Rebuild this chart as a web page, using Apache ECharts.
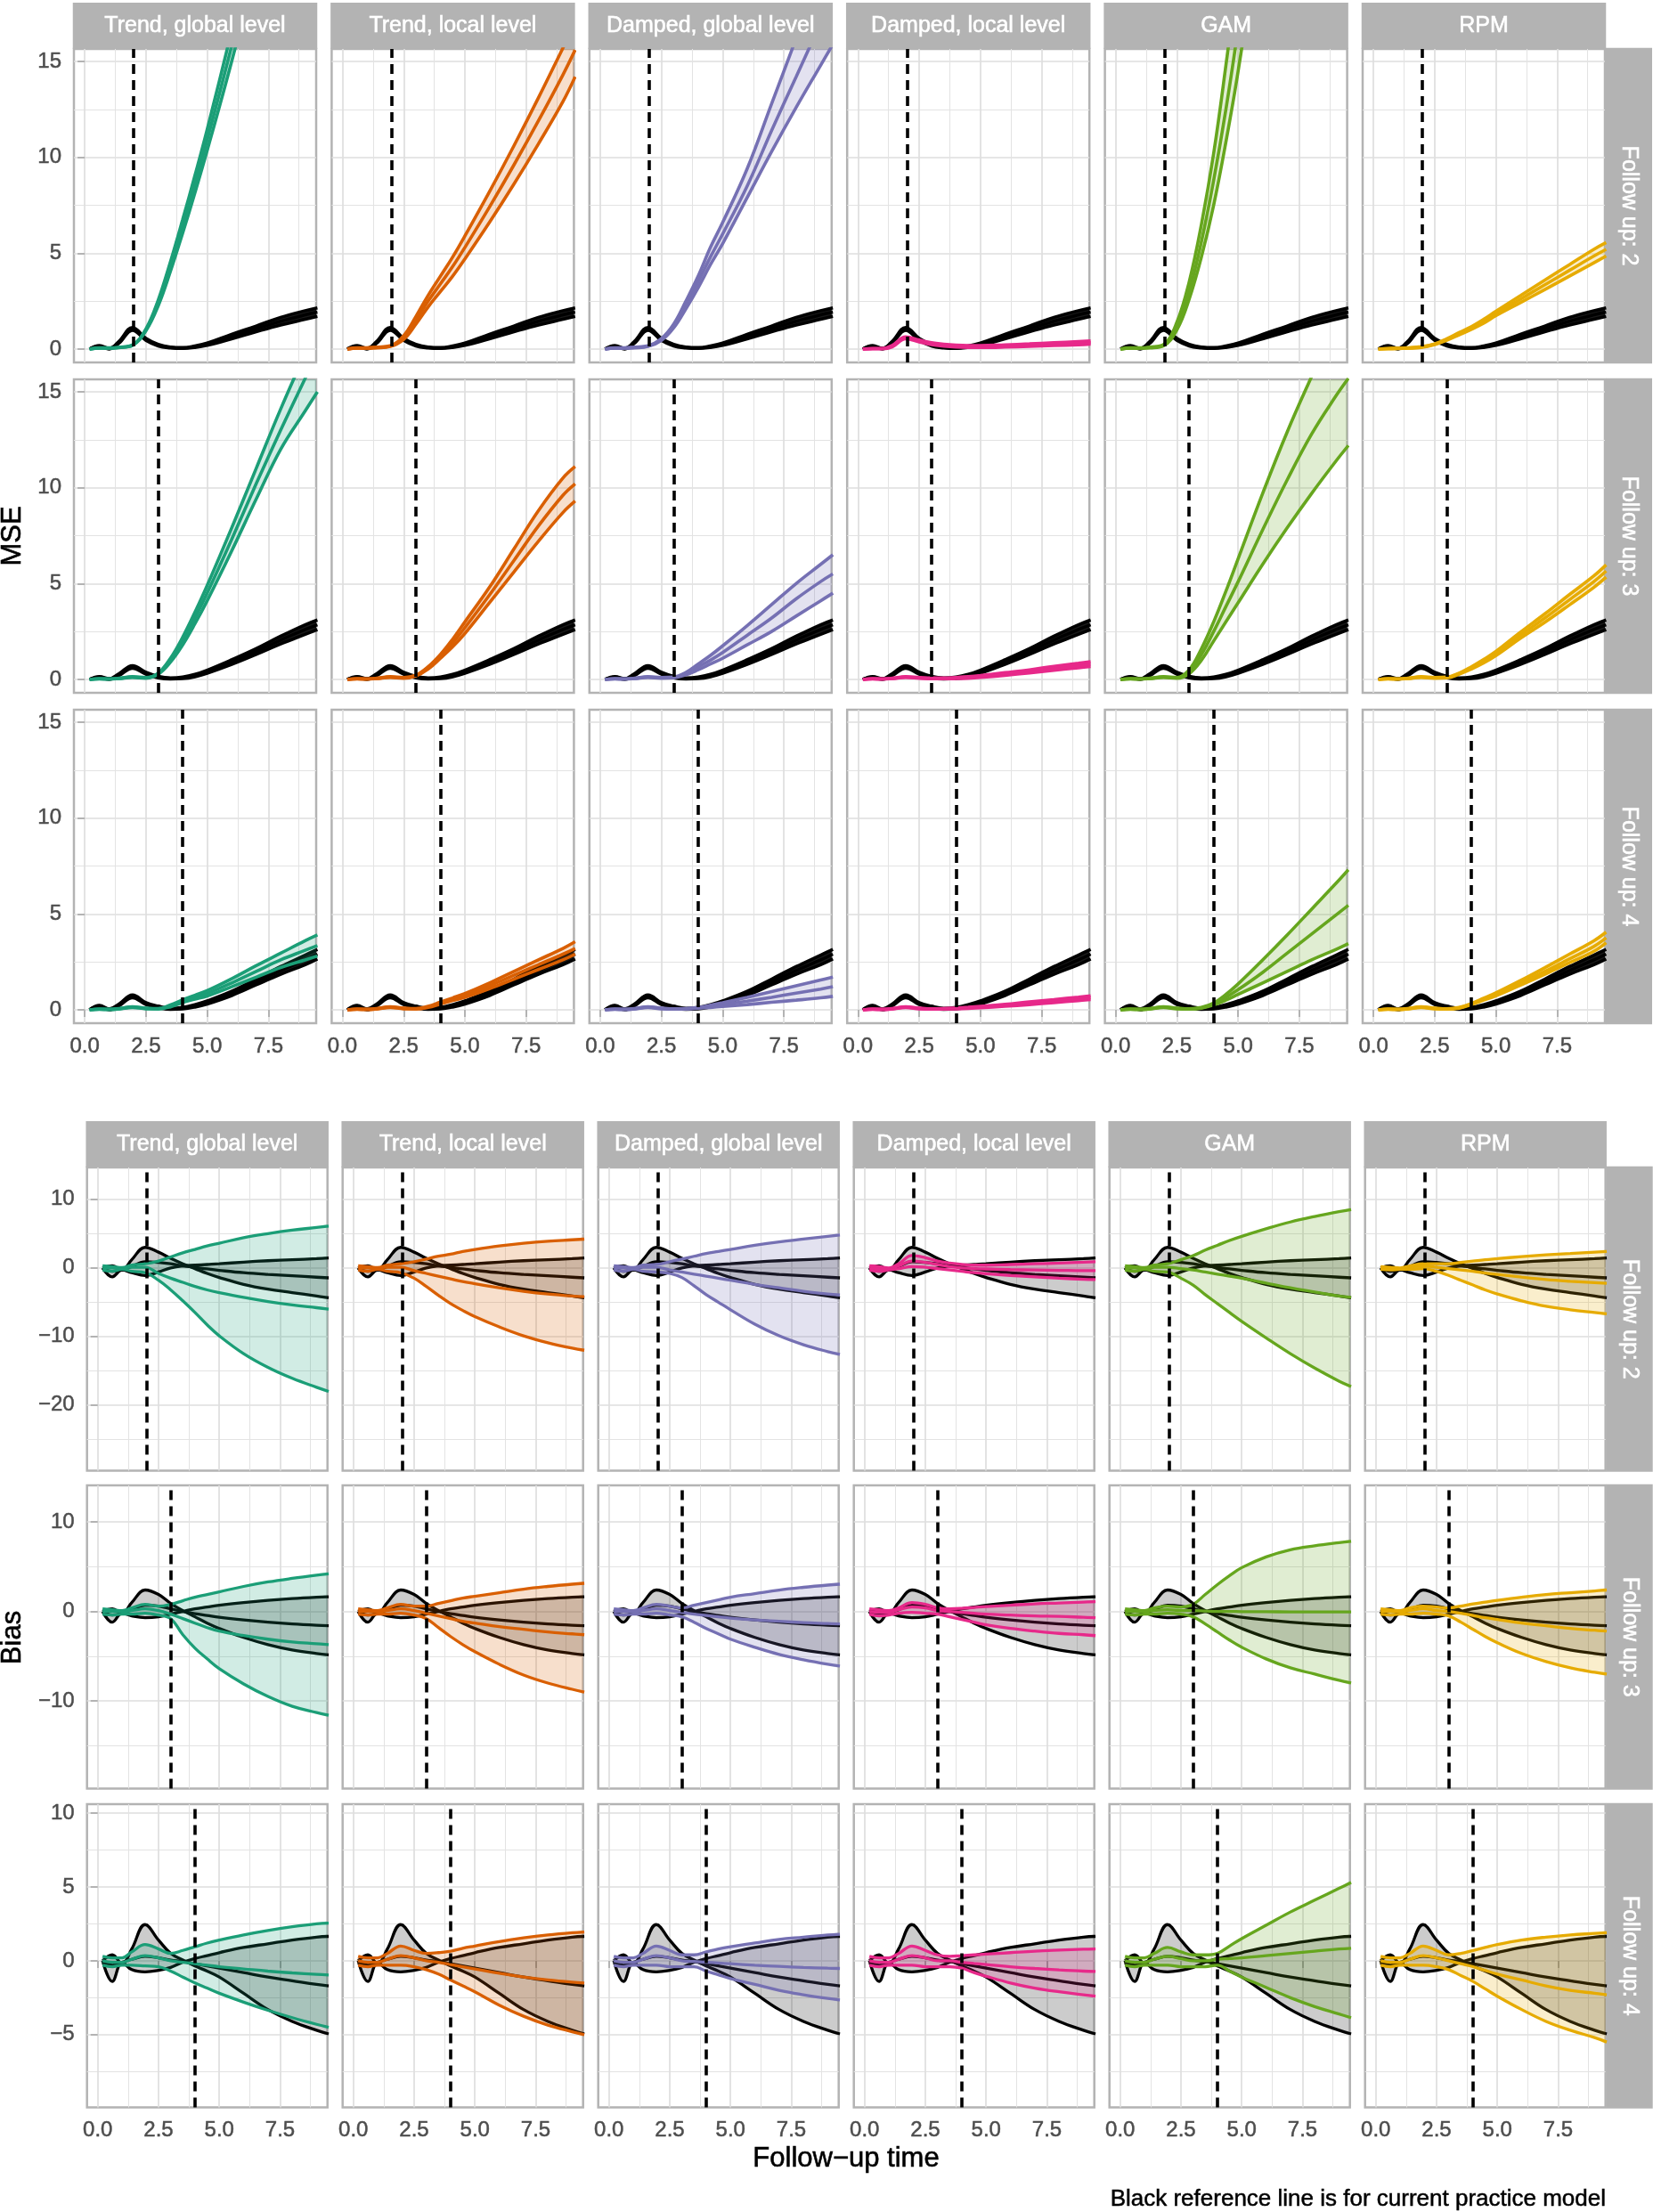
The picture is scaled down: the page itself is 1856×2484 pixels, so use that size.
<!DOCTYPE html>
<html><head><meta charset="utf-8">
<script src="https://cdn.jsdelivr.net/npm/echarts@6/dist/echarts.min.js"></script>
<style>html,body{margin:0;padding:0;background:#fff}#c{width:1856px;height:2484px}</style>
</head><body><div id="c"></div><script>
// ---------------- categories / ticks ----------------
const X = [0.2, 0.6, 1.0, 1.4, 1.95, 2.5, 3.0, 3.5, 4.0, 4.5, 5.0, 6.0, 7.0, 8.0, 9.0, 9.5];
const models = ["Trend, global level", "Trend, local level", "Damped, global level", "Damped, local level", "GAM", "RPM"];
const modelColors = ["#1B9E77", "#D95F02", "#7570B3", "#E7298A", "#66A61E", "#E6AB02"];
const followUps = [2, 3, 4];
const rowLabels = ["Follow up: 2", "Follow up: 3", "Follow up: 4"];
const xTickValues = [0, 2.5, 5, 7.5];
const mseTickValues = [0, 5, 10, 15];
const biasTickValues = [[-20, -10, 0, 10], [-10, 0, 10], [-5, 0, 5, 10]];

// ---------------- MSE: black reference (current practice) ----------------
const mseRef2Lo  = [0, 0.12, 0.0, 0.3, 0.98, 0.45, 0.16, 0.06, 0.03, 0.08, 0.19, 0.53, 0.9, 1.25, 1.55, 1.7];
const mseRef2Mid = [0, 0.15, 0.02, 0.35, 1.05, 0.5, 0.2, 0.08, 0.05, 0.12, 0.25, 0.65, 1.05, 1.45, 1.78, 1.92];
const mseRef2Hi  = [0, 0.18, 0.04, 0.4, 1.12, 0.55, 0.24, 0.1, 0.07, 0.16, 0.31, 0.77, 1.2, 1.65, 2.0, 2.15];
const mseRef3Lo  = [0, 0.09, 0.0, 0.2, 0.58, 0.27, 0.08, 0.02, 0.04, 0.14, 0.32, 0.78, 1.3, 1.85, 2.35, 2.6];
const mseRef3Mid = [0, 0.12, 0.02, 0.25, 0.65, 0.32, 0.12, 0.05, 0.08, 0.2, 0.4, 0.9, 1.45, 2.05, 2.6, 2.85];
const mseRef3Hi  = [0, 0.15, 0.04, 0.3, 0.72, 0.37, 0.16, 0.08, 0.12, 0.26, 0.48, 1.02, 1.6, 2.25, 2.85, 3.1];
const mseRef4Lo  = [0, 0.17, 0.0, 0.2, 0.63, 0.27, 0.11, 0.02, 0.04, 0.14, 0.3, 0.74, 1.3, 1.85, 2.35, 2.65];
const mseRef4Mid = [0, 0.2, 0.02, 0.25, 0.7, 0.32, 0.15, 0.05, 0.08, 0.2, 0.38, 0.85, 1.45, 2.05, 2.6, 2.9];
const mseRef4Hi  = [0, 0.23, 0.04, 0.3, 0.77, 0.37, 0.19, 0.08, 0.12, 0.26, 0.46, 0.96, 1.6, 2.25, 2.85, 3.15];

// ---------------- MSE: follow up 2 ----------------
const mse2TgLo  = [0, 0.04, 0.04, 0.07, 0.19, 0.95, 2.25, 4.05, 6.05, 8.15, 10.35, 15.0, 20, 25.2, 30.4, 33.2];
const mse2TgMid = [0, 0.05, 0.05, 0.08, 0.2, 1.0, 2.4, 4.3, 6.4, 8.6, 10.9, 15.8, 21, 26.5, 32, 35];
const mse2TgHi  = [0, 0.06, 0.06, 0.09, 0.21, 1.05, 2.55, 4.55, 6.75, 9.05, 11.45, 16.6, 22, 27.8, 33.6, 36.8];
const mse2TlLo  = [0, 0.04, 0.04, 0.06, 0.13, 0.5, 1.3, 2.2, 3.0, 3.8, 4.7, 6.6, 8.6, 10.7, 12.9, 14.2];
const mse2TlMid = [0, 0.05, 0.05, 0.08, 0.15, 0.6, 1.5, 2.5, 3.4, 4.3, 5.3, 7.4, 9.6, 11.9, 14.3, 15.6];
const mse2TlHi  = [0, 0.06, 0.06, 0.1, 0.17, 0.7, 1.7, 2.8, 3.8, 4.8, 5.9, 8.2, 10.6, 13.1, 15.7, 17.0];
const mse2DgLo  = [0, 0.04, 0.04, 0.06, 0.13, 0.45, 1.1, 2.1, 3.2, 4.4, 5.5, 7.9, 10.3, 12.6, 14.8, 15.9];
const mse2DgMid = [0, 0.05, 0.05, 0.08, 0.15, 0.5, 1.2, 2.3, 3.5, 4.8, 6.0, 8.5, 11.4, 14.2, 17.0, 18.4];
const mse2DgHi  = [0, 0.06, 0.06, 0.1, 0.17, 0.55, 1.3, 2.5, 3.8, 5.3, 6.6, 9.4, 12.8, 16.2, 19.6, 21.0];
const mse2DlLo  = [0, 0.01, 0.01, 0.11, 0.53, 0.37, 0.23, 0.15, 0.1, 0.08, 0.08, 0.1, 0.14, 0.18, 0.22, 0.25];
const mse2DlMid = [0, 0.02, 0.02, 0.15, 0.58, 0.42, 0.28, 0.2, 0.15, 0.13, 0.13, 0.16, 0.2, 0.25, 0.3, 0.33];
const mse2DlHi  = [0, 0.03, 0.03, 0.19, 0.63, 0.47, 0.33, 0.25, 0.2, 0.18, 0.18, 0.22, 0.27, 0.33, 0.39, 0.42];
const mse2GaLo  = [0, 0.04, 0.04, 0.06, 0.17, 1.0, 2.6, 4.8, 7.5, 10.8, 14.5, 23, 33, 45, 58, 65];
const mse2GaMid = [0, 0.05, 0.05, 0.08, 0.2, 1.2, 3.0, 5.6, 8.8, 12.5, 16.8, 27, 39, 52, 66, 74];
const mse2GaHi  = [0, 0.06, 0.06, 0.1, 0.23, 1.4, 3.5, 6.5, 10.2, 14.8, 19.8, 31, 44, 58, 73, 81];
const mse2RpLo  = [0, 0.01, 0.02, 0.04, 0.08, 0.23, 0.46, 0.74, 1.03, 1.35, 1.74, 2.42, 3.1, 3.8, 4.5, 4.85];
const mse2RpMid = [0, 0.02, 0.03, 0.05, 0.1, 0.25, 0.5, 0.8, 1.1, 1.45, 1.85, 2.6, 3.35, 4.1, 4.85, 5.2];
const mse2RpHi  = [0, 0.03, 0.04, 0.06, 0.12, 0.27, 0.54, 0.86, 1.17, 1.55, 1.97, 2.78, 3.6, 4.4, 5.2, 5.55];

// ---------------- MSE: follow up 3 ----------------
const mse3TgLo  = [0, 0.02, 0.01, 0.04, 0.1, 0.06, 0.27, 0.9, 1.8, 2.9, 4.1, 6.7, 9.4, 12.0, 14.0, 15.0];
const mse3TgMid = [0, 0.03, 0.02, 0.05, 0.12, 0.08, 0.3, 1.0, 2.0, 3.2, 4.5, 7.3, 10.2, 13.0, 15.7, 17.0];
const mse3TgHi  = [0, 0.04, 0.03, 0.06, 0.14, 0.1, 0.33, 1.1, 2.2, 3.5, 4.9, 7.9, 11.0, 14.1, 17.0, 18.4];
const mse3TlLo  = [0, 0.02, 0.01, 0.04, 0.1, 0.06, 0.18, 0.54, 1.1, 1.7, 2.4, 4.0, 5.6, 7.2, 8.7, 9.3];
const mse3TlMid = [0, 0.03, 0.02, 0.05, 0.12, 0.08, 0.2, 0.6, 1.2, 1.9, 2.7, 4.4, 6.2, 8.0, 9.6, 10.2];
const mse3TlHi  = [0, 0.04, 0.03, 0.06, 0.14, 0.1, 0.22, 0.66, 1.3, 2.1, 3.0, 4.8, 6.8, 8.8, 10.5, 11.1];
const mse3DgLo  = [0, 0.02, 0.01, 0.04, 0.1, 0.06, 0.08, 0.24, 0.5, 0.8, 1.1, 1.8, 2.5, 3.3, 4.1, 4.5];
const mse3DgMid = [0, 0.03, 0.02, 0.05, 0.12, 0.08, 0.1, 0.3, 0.65, 1.0, 1.4, 2.3, 3.2, 4.2, 5.1, 5.5];
const mse3DgHi  = [0, 0.04, 0.03, 0.06, 0.14, 0.1, 0.12, 0.36, 0.8, 1.25, 1.75, 2.8, 3.9, 5.0, 6.0, 6.5];
const mse3DlLo  = [0, 0.02, 0.01, 0.04, 0.1, 0.06, 0.03, 0.03, 0.04, 0.06, 0.1, 0.21, 0.34, 0.48, 0.6, 0.67];
const mse3DlMid = [0, 0.03, 0.02, 0.05, 0.12, 0.08, 0.05, 0.05, 0.07, 0.1, 0.15, 0.28, 0.42, 0.58, 0.72, 0.8];
const mse3DlHi  = [0, 0.04, 0.03, 0.06, 0.14, 0.1, 0.07, 0.07, 0.1, 0.14, 0.2, 0.35, 0.5, 0.68, 0.84, 0.93];
const mse3GaLo  = [0, 0.02, 0.01, 0.04, 0.1, 0.06, 0.3, 1.0, 2.0, 3.0, 4.0, 6.0, 7.9, 9.7, 11.4, 12.2];
const mse3GaMid = [0, 0.03, 0.02, 0.05, 0.12, 0.08, 0.4, 1.3, 2.5, 3.8, 5.1, 7.8, 10.4, 12.8, 14.8, 15.7];
const mse3GaHi  = [0, 0.04, 0.03, 0.06, 0.14, 0.1, 0.5, 1.6, 3.0, 4.6, 6.3, 9.7, 12.9, 15.8, 18.6, 19.9];
const mse3RpLo  = [0, 0.02, 0.01, 0.04, 0.1, 0.06, 0.08, 0.27, 0.54, 0.86, 1.24, 2.14, 2.98, 3.88, 4.8, 5.33];
const mse3RpMid = [0, 0.03, 0.02, 0.05, 0.12, 0.08, 0.1, 0.3, 0.6, 0.95, 1.35, 2.3, 3.2, 4.15, 5.1, 5.65];
const mse3RpHi  = [0, 0.04, 0.03, 0.06, 0.14, 0.1, 0.12, 0.33, 0.66, 1.04, 1.46, 2.46, 3.42, 4.42, 5.4, 5.97];

// ---------------- MSE: follow up 4 ----------------
const mse4TgLo  = [0, 0.02, 0.01, 0.04, 0.12, 0.05, 0.04, 0.15, 0.38, 0.55, 0.72, 1.2, 1.7, 2.2, 2.6, 2.8];
const mse4TgMid = [0, 0.03, 0.02, 0.05, 0.14, 0.07, 0.05, 0.2, 0.45, 0.65, 0.85, 1.4, 2.0, 2.6, 3.1, 3.35];
const mse4TgHi  = [0, 0.04, 0.03, 0.06, 0.16, 0.09, 0.06, 0.25, 0.52, 0.76, 1.0, 1.62, 2.3, 2.95, 3.6, 3.9];
const mse4TlLo  = [0, 0.02, 0.01, 0.04, 0.12, 0.05, 0.04, 0.12, 0.3, 0.48, 0.65, 1.1, 1.6, 2.1, 2.6, 2.9];
const mse4TlMid = [0, 0.03, 0.02, 0.05, 0.14, 0.07, 0.05, 0.15, 0.35, 0.55, 0.75, 1.25, 1.8, 2.35, 2.9, 3.2];
const mse4TlHi  = [0, 0.04, 0.03, 0.06, 0.16, 0.09, 0.06, 0.18, 0.4, 0.62, 0.85, 1.4, 2.0, 2.6, 3.2, 3.55];
const mse4DgLo  = [0, 0.02, 0.01, 0.04, 0.12, 0.05, 0.03, 0.04, 0.08, 0.12, 0.17, 0.27, 0.39, 0.5, 0.62, 0.7];
const mse4DgMid = [0, 0.03, 0.02, 0.05, 0.14, 0.07, 0.04, 0.05, 0.1, 0.18, 0.27, 0.45, 0.65, 0.87, 1.08, 1.2];
const mse4DgHi  = [0, 0.04, 0.03, 0.06, 0.16, 0.09, 0.05, 0.06, 0.12, 0.24, 0.37, 0.65, 0.95, 1.25, 1.55, 1.7];
const mse4DlLo  = [0, 0.02, 0.01, 0.04, 0.12, 0.05, 0.03, 0.04, 0.05, 0.07, 0.1, 0.18, 0.27, 0.37, 0.48, 0.53];
const mse4DlMid = [0, 0.03, 0.02, 0.05, 0.14, 0.07, 0.04, 0.05, 0.07, 0.1, 0.14, 0.23, 0.34, 0.45, 0.57, 0.63];
const mse4DlHi  = [0, 0.04, 0.03, 0.06, 0.16, 0.09, 0.05, 0.06, 0.09, 0.13, 0.18, 0.28, 0.41, 0.53, 0.66, 0.73];
const mse4GaLo  = [0, 0.02, 0.01, 0.04, 0.12, 0.05, 0.03, 0.08, 0.25, 0.5, 0.8, 1.4, 2.0, 2.6, 3.15, 3.45];
const mse4GaMid = [0, 0.03, 0.02, 0.05, 0.14, 0.07, 0.04, 0.1, 0.3, 0.65, 1.05, 1.95, 2.95, 3.95, 4.95, 5.45];
const mse4GaHi  = [0, 0.04, 0.03, 0.06, 0.16, 0.09, 0.05, 0.12, 0.35, 0.8, 1.35, 2.6, 3.9, 5.25, 6.6, 7.3];
const mse4RpLo  = [0, 0.02, 0.01, 0.04, 0.12, 0.05, 0.03, 0.08, 0.27, 0.5, 0.72, 1.28, 1.85, 2.45, 3.05, 3.5];
const mse4RpMid = [0, 0.03, 0.02, 0.05, 0.14, 0.07, 0.04, 0.1, 0.3, 0.55, 0.8, 1.4, 2.0, 2.65, 3.3, 3.75];
const mse4RpHi  = [0, 0.04, 0.03, 0.06, 0.16, 0.09, 0.05, 0.12, 0.33, 0.6, 0.88, 1.52, 2.2, 2.9, 3.6, 4.05];

// ---------------- Bias: black reference (A / mid / B) ----------------
const biasRef2A   = [0, 0.3, -0.3, 1.2, 3.0, 2.3, 1.4, 0.6, -0.1, -0.8, -1.4, -2.4, -3.1, -3.6, -4.1, -4.35];
const biasRef2Mid = [0, -0.5, -0.3, 0.2, 0.9, 0.8, 0.6, 0.3, 0.1, -0.15, -0.35, -0.7, -0.95, -1.15, -1.35, -1.45];
const biasRef2B   = [0, -1.3, -0.3, -0.7, -1.1, -0.6, 0.0, 0.3, 0.4, 0.5, 0.6, 0.85, 1.05, 1.2, 1.35, 1.45];
const biasRef3A   = [0, 0.3, -0.2, 1.0, 2.4, 1.9, 0.9, 0.1, -0.6, -1.3, -1.9, -2.9, -3.7, -4.3, -4.7, -4.85];
const biasRef3Mid = [0, -0.4, -0.2, 0.2, 0.7, 0.6, 0.3, 0.0, -0.25, -0.45, -0.65, -0.95, -1.2, -1.4, -1.55, -1.6];
const biasRef3B   = [0, -1.2, -0.2, -0.5, -0.7, -0.6, -0.3, 0.0, 0.3, 0.5, 0.7, 1.0, 1.25, 1.45, 1.6, 1.65];
const biasRef4A   = [0, 0.4, -0.2, 0.8, 2.45, 1.4, 0.5, 0.05, -0.35, -0.7, -1.1, -2.2, -3.3, -4.1, -4.7, -4.95];
const biasRef4Mid = [0, -0.3, -0.1, 0.1, 0.3, 0.2, 0.05, -0.05, -0.2, -0.35, -0.5, -0.8, -1.1, -1.35, -1.6, -1.7];
const biasRef4B   = [0, -1.4, -0.1, -0.6, -0.75, -0.65, -0.45, -0.1, 0.15, 0.35, 0.55, 0.9, 1.15, 1.4, 1.6, 1.65];

// ---------------- Bias: follow up 2 ----------------
const bias2TgLo  = [-0.3, -0.5, -0.2, -0.5, -0.7, -1.8, -3.2, -4.8, -6.5, -8.3, -9.9, -12.5, -14.5, -16.1, -17.4, -18.0];
const bias2TgMid = [0, 0, 0, 0.1, 0.1, -0.8, -1.5, -2.1, -2.7, -3.2, -3.6, -4.3, -4.9, -5.4, -5.8, -6.0];
const bias2TgHi  = [0.3, 0.2, 0.05, 0.4, 0.6, 1.0, 1.6, 2.2, 2.7, 3.2, 3.6, 4.4, 5.0, 5.5, 5.9, 6.1];
const bias2TlLo  = [-0.3, -0.5, -0.2, -0.5, -0.7, -1.5, -2.7, -4.0, -5.2, -6.2, -7.1, -8.6, -9.9, -10.9, -11.7, -12.0];
const bias2TlMid = [0, 0, 0, 0.1, 0.1, -0.4, -0.8, -1.2, -1.6, -2.0, -2.3, -2.9, -3.4, -3.8, -4.1, -4.2];
const bias2TlHi  = [0.3, 0.2, 0.05, 0.4, 0.6, 0.9, 1.3, 1.7, 2.0, 2.4, 2.7, 3.2, 3.6, 3.9, 4.1, 4.2];
const bias2DgLo  = [-0.3, -0.5, -0.2, -0.5, -0.6, -0.8, -1.4, -2.6, -3.9, -5.0, -6.1, -8.2, -9.9, -11.2, -12.2, -12.6];
const bias2DgMid = [0, 0, 0, 0.1, 0.1, -0.3, -0.6, -0.9, -1.2, -1.5, -1.8, -2.4, -2.9, -3.4, -3.8, -3.95];
const bias2DgHi  = [0.3, 0.2, 0.05, 0.4, 0.5, 0.9, 1.3, 1.7, 2.1, 2.4, 2.7, 3.3, 3.8, 4.2, 4.6, 4.8];
const bias2DlLo  = [-0.3, -0.5, -0.3, -0.1, 0.2, 0.1, -0.1, -0.3, -0.5, -0.7, -0.85, -1.1, -1.3, -1.5, -1.65, -1.7];
const bias2DlMid = [0, -0.1, -0.1, 0.3, 1.0, 0.8, 0.5, 0.2, 0, -0.1, -0.15, -0.25, -0.3, -0.35, -0.4, -0.4];
const bias2DlHi  = [0.3, 0.2, 0.0, 0.6, 1.8, 1.5, 1.0, 0.7, 0.5, 0.4, 0.4, 0.5, 0.6, 0.7, 0.85, 0.9];
const bias2GaLo  = [-0.3, -0.5, -0.2, -0.5, -0.6, -1.5, -2.5, -3.9, -5.2, -6.5, -7.8, -10.2, -12.5, -14.6, -16.5, -17.3];
const bias2GaMid = [0, 0, 0, 0.1, 0.1, -0.1, -0.3, -0.6, -0.9, -1.2, -1.5, -2.2, -2.9, -3.5, -4.1, -4.3];
const bias2GaHi  = [0.3, 0.2, 0.05, 0.4, 0.6, 1.2, 1.8, 2.6, 3.3, 4.0, 4.6, 5.7, 6.7, 7.5, 8.2, 8.5];
const bias2RpLo  = [-0.2, -0.3, -0.2, -0.2, -0.1, -0.5, -1.1, -1.8, -2.5, -3.2, -3.8, -4.8, -5.6, -6.1, -6.5, -6.7];
const bias2RpMid = [0, -0.1, -0.1, 0.1, 0.3, 0.1, -0.1, -0.3, -0.5, -0.75, -0.95, -1.35, -1.7, -1.95, -2.15, -2.25];
const bias2RpHi  = [0.2, 0.1, 0.0, 0.3, 0.6, 0.6, 0.6, 0.8, 1.0, 1.2, 1.35, 1.65, 1.9, 2.1, 2.3, 2.4];

// ---------------- Bias: follow up 3 ----------------
const bias3TgLo  = [-0.3, -0.4, -0.3, -0.3, -0.2, -0.4, -0.8, -2.6, -4.1, -5.3, -6.4, -8.1, -9.5, -10.6, -11.3, -11.6];
const bias3TgMid = [0, 0, 0, 0.1, 0.3, 0.1, -0.3, -0.8, -1.3, -1.8, -2.2, -2.7, -3.1, -3.4, -3.6, -3.7];
const bias3TgHi  = [0.3, 0.2, 0.1, 0.4, 0.8, 0.6, 0.8, 1.2, 1.6, 1.9, 2.2, 2.8, 3.3, 3.7, 4.05, 4.2];
const bias3TlLo  = [-0.3, -0.4, -0.3, -0.3, -0.2, -0.4, -0.8, -1.8, -2.8, -3.7, -4.5, -5.9, -7.1, -8.0, -8.7, -9.0];
const bias3TlMid = [0, 0, 0, 0.1, 0.3, 0.1, -0.2, -0.5, -0.8, -1.1, -1.3, -1.7, -2.0, -2.3, -2.5, -2.6];
const bias3TlHi  = [0.3, 0.2, 0.1, 0.4, 0.8, 0.6, 0.6, 0.9, 1.2, 1.5, 1.7, 2.1, 2.5, 2.8, 3.05, 3.15];
const bias3DgLo  = [-0.3, -0.4, -0.3, -0.3, -0.2, -0.4, -0.6, -1.2, -1.9, -2.5, -3.1, -4.0, -4.8, -5.4, -5.9, -6.1];
const bias3DgMid = [0, 0, 0, 0.1, 0.3, 0.1, -0.1, -0.3, -0.45, -0.6, -0.75, -0.95, -1.1, -1.25, -1.35, -1.4];
const bias3DgHi  = [0.3, 0.2, 0.1, 0.4, 0.8, 0.6, 0.4, 0.7, 1.0, 1.3, 1.6, 2.0, 2.4, 2.7, 2.95, 3.05];
const bias3DlLo  = [-0.3, -0.5, -0.4, -0.2, -0.1, -0.2, -0.3, -0.6, -0.9, -1.2, -1.5, -1.9, -2.2, -2.45, -2.6, -2.7];
const bias3DlMid = [0, -0.1, -0.1, 0.2, 0.5, 0.4, 0.1, 0.0, -0.1, -0.2, -0.3, -0.4, -0.5, -0.55, -0.65, -0.7];
const bias3DlHi  = [0.3, 0.2, 0.1, 0.4, 1.0, 0.8, 0.4, 0.3, 0.35, 0.45, 0.55, 0.7, 0.85, 0.95, 1.05, 1.1];
const bias3GaLo  = [-0.3, -0.4, -0.3, -0.3, -0.2, -0.3, -0.6, -1.4, -2.3, -3.2, -4.0, -5.3, -6.3, -7.0, -7.7, -8.0];
const bias3GaMid = [0, 0, 0, 0.1, 0.2, 0.1, 0.1, 0.05, 0, 0, -0.02, -0.03, -0.04, -0.05, -0.05, -0.05];
const bias3GaHi  = [0.3, 0.2, 0.1, 0.4, 0.6, 0.5, 0.8, 1.9, 3.0, 4.0, 4.9, 6.1, 6.9, 7.35, 7.7, 7.85];
const bias3RpLo  = [-0.3, -0.4, -0.3, -0.3, -0.2, -0.3, -0.5, -1.2, -2.0, -2.8, -3.5, -4.7, -5.6, -6.3, -6.8, -7.0];
const bias3RpMid = [0, 0, 0, 0.1, 0.3, 0.1, 0, -0.2, -0.45, -0.7, -0.9, -1.3, -1.6, -1.9, -2.1, -2.2];
const bias3RpHi  = [0.3, 0.2, 0.1, 0.4, 0.6, 0.5, 0.4, 0.6, 0.85, 1.05, 1.25, 1.6, 1.9, 2.1, 2.3, 2.4];

// ---------------- Bias: follow up 4 ----------------
const bias4TgLo  = [-0.3, -0.4, -0.3, -0.3, -0.35, -0.4, -0.7, -1.1, -1.5, -1.85, -2.2, -2.8, -3.35, -3.85, -4.3, -4.5];
const bias4TgMid = [0, -0.1, -0.1, 0.1, 0.35, 0.2, 0, -0.1, -0.2, -0.3, -0.4, -0.55, -0.7, -0.82, -0.92, -0.96];
const bias4TgHi  = [0.3, 0.2, 0.2, 0.6, 1.1, 0.8, 0.5, 0.7, 0.95, 1.2, 1.4, 1.75, 2.05, 2.3, 2.5, 2.55];
const bias4TlLo  = [-0.3, -0.4, -0.3, -0.3, -0.3, -0.4, -0.6, -0.9, -1.3, -1.7, -2.1, -3.0, -3.75, -4.35, -4.8, -5.0];
const bias4TlMid = [0, -0.1, -0.1, 0.1, 0.35, 0.2, 0.0, -0.1, -0.25, -0.4, -0.55, -0.85, -1.1, -1.3, -1.45, -1.5];
const bias4TlHi  = [0.3, 0.2, 0.2, 0.5, 1.0, 0.7, 0.5, 0.55, 0.65, 0.85, 1.0, 1.3, 1.55, 1.75, 1.9, 1.95];
const bias4DgLo  = [-0.3, -0.4, -0.3, -0.3, -0.3, -0.4, -0.4, -0.4, -0.7, -0.95, -1.2, -1.6, -2.0, -2.3, -2.55, -2.65];
const bias4DgMid = [0, -0.1, -0.1, 0.1, 0.35, 0.2, 0, -0.05, -0.1, -0.15, -0.2, -0.3, -0.38, -0.45, -0.5, -0.52];
const bias4DgHi  = [0.3, 0.2, 0.2, 0.5, 1.0, 0.7, 0.4, 0.4, 0.6, 0.8, 0.95, 1.2, 1.45, 1.6, 1.75, 1.8];
const bias4DlLo  = [-0.3, -0.4, -0.3, -0.3, -0.3, -0.4, -0.4, -0.4, -0.5, -0.8, -1.05, -1.5, -1.85, -2.1, -2.3, -2.4];
const bias4DlMid = [0, -0.1, -0.1, 0.1, 0.35, 0.2, 0, 0, -0.1, -0.18, -0.25, -0.4, -0.52, -0.62, -0.7, -0.72];
const bias4DlHi  = [0.3, 0.2, 0.2, 0.5, 1.0, 0.7, 0.4, 0.3, 0.35, 0.4, 0.45, 0.55, 0.65, 0.72, 0.78, 0.8];
const bias4GaLo  = [-0.3, -0.4, -0.3, -0.3, -0.3, -0.4, -0.4, -0.4, -0.3, -0.7, -1.1, -1.8, -2.5, -3.1, -3.6, -3.85];
const bias4GaMid = [0, -0.1, -0.1, 0.1, 0.3, 0.15, 0, 0, 0.1, 0.15, 0.2, 0.35, 0.5, 0.65, 0.8, 0.85];
const bias4GaHi  = [0.3, 0.2, 0.2, 0.5, 0.9, 0.6, 0.4, 0.4, 0.5, 1.0, 1.5, 2.4, 3.3, 4.1, 4.9, 5.3];
const bias4RpLo  = [-0.3, -0.4, -0.3, -0.3, -0.3, -0.4, -0.6, -1.0, -1.4, -1.9, -2.4, -3.3, -4.1, -4.7, -5.2, -5.5];
const bias4RpMid = [0, -0.1, -0.1, 0.1, 0.35, 0.2, 0, -0.2, -0.4, -0.65, -0.9, -1.3, -1.7, -2.0, -2.2, -2.3];
const bias4RpHi  = [0.3, 0.2, 0.2, 0.5, 1.0, 0.7, 0.4, 0.5, 0.7, 0.9, 1.1, 1.4, 1.6, 1.75, 1.85, 1.9];

// ---------------- tables built from the arrays ----------------
const mseRef = [[mseRef2Lo, mseRef2Mid, mseRef2Hi], [mseRef3Lo, mseRef3Mid, mseRef3Hi], [mseRef4Lo, mseRef4Mid, mseRef4Hi]];
const mseData = [
  [[mse2TgLo, mse2TgMid, mse2TgHi], [mse2TlLo, mse2TlMid, mse2TlHi], [mse2DgLo, mse2DgMid, mse2DgHi], [mse2DlLo, mse2DlMid, mse2DlHi], [mse2GaLo, mse2GaMid, mse2GaHi], [mse2RpLo, mse2RpMid, mse2RpHi]],
  [[mse3TgLo, mse3TgMid, mse3TgHi], [mse3TlLo, mse3TlMid, mse3TlHi], [mse3DgLo, mse3DgMid, mse3DgHi], [mse3DlLo, mse3DlMid, mse3DlHi], [mse3GaLo, mse3GaMid, mse3GaHi], [mse3RpLo, mse3RpMid, mse3RpHi]],
  [[mse4TgLo, mse4TgMid, mse4TgHi], [mse4TlLo, mse4TlMid, mse4TlHi], [mse4DgLo, mse4DgMid, mse4DgHi], [mse4DlLo, mse4DlMid, mse4DlHi], [mse4GaLo, mse4GaMid, mse4GaHi], [mse4RpLo, mse4RpMid, mse4RpHi]]
];
const biasRef = [[biasRef2A, biasRef2Mid, biasRef2B], [biasRef3A, biasRef3Mid, biasRef3B], [biasRef4A, biasRef4Mid, biasRef4B]];
const biasData = [
  [[bias2TgLo, bias2TgMid, bias2TgHi], [bias2TlLo, bias2TlMid, bias2TlHi], [bias2DgLo, bias2DgMid, bias2DgHi], [bias2DlLo, bias2DlMid, bias2DlHi], [bias2GaLo, bias2GaMid, bias2GaHi], [bias2RpLo, bias2RpMid, bias2RpHi]],
  [[bias3TgLo, bias3TgMid, bias3TgHi], [bias3TlLo, bias3TlMid, bias3TlHi], [bias3DgLo, bias3DgMid, bias3DgHi], [bias3DlLo, bias3DlMid, bias3DlHi], [bias3GaLo, bias3GaMid, bias3GaHi], [bias3RpLo, bias3RpMid, bias3RpHi]],
  [[bias4TgLo, bias4TgMid, bias4TgHi], [bias4TlLo, bias4TlMid, bias4TlHi], [bias4DgLo, bias4DgMid, bias4DgHi], [bias4DlLo, bias4DlMid, bias4DlHi], [bias4GaLo, bias4GaMid, bias4GaHi], [bias4RpLo, bias4RpMid, bias4RpHi]]
];

// ---------------- layout (positions / styles) ----------------
const FONT = '"Liberation Sans", Arial, Helvetica, sans-serif';
const XMIN = -0.44, XMAX = 9.45;
const LAY = {
  mse: { left: 83, step: 289.4, width: 272, tops: [55, 426, 797], height: 352, stripTop: 3, lw: 3.6,
         yRange: [[-0.7, 15.65], [-0.7, 15.65], [-0.7, 15.65]], yStep: [5, 5, 5] },
  bias: { left: 97.7, step: 287, width: 270, tops: [1311, 1668, 2026], height: 340.5, stripTop: 1259, lw: 3.3,
         yRange: [[-29.56, 14.65], [-19.8, 14.1], [-9.92, 10.6]], yStep: [10, 10, 5] }
};
const SMOOTH = 0.4;
function rgba(hex, a) {
  const n = parseInt(hex.slice(1), 16);
  return 'rgba(' + (n >> 16) + ',' + ((n >> 8) & 255) + ',' + (n & 255) + ',' + a + ')';
}
const minus = s => String(s).replace('-', '\u2212');

const grids = [], xAxes = [], yAxes = [], series = [], graphics = [];

function fillSeries(gi, a, b, color, z) {
  return {
    type: 'custom', xAxisIndex: gi, yAxisIndex: gi, silent: true, animation: false, z: z,
    data: [[X[0], a[0]]],
    renderItem: function (params, api) {
      const pts = [];
      for (let i = 0; i < X.length; i++) pts.push(api.coord([X[i], b[i]]));
      for (let i = X.length - 1; i >= 0; i--) pts.push(api.coord([X[i], a[i]]));
      const cs = params.coordSys;
      return {
        type: 'polygon', shape: { points: pts, smooth: SMOOTH },
        style: { fill: color, stroke: null },
        clipPath: { type: 'rect', shape: { x: cs.x, y: cs.y, width: cs.width, height: cs.height } }
      };
    }
  };
}
function lineSeries(gi, arr, color, width, z, extra) {
  const s = {
    type: 'line', xAxisIndex: gi, yAxisIndex: gi, silent: true, animation: false, z: z,
    showSymbol: false, symbol: 'none', smooth: SMOOTH, clip: true,
    lineStyle: { color: color, width: width },
    data: X.map((x, i) => [x, arr[i]])
  };
  return Object.assign(s, extra || {});
}
const labelStyle = { fontSize: 24, fontFamily: FONT, color: '#4D4D4D', textBorderColor: '#4D4D4D', textBorderWidth: 0.5, margin: 14 };

function buildBlock(key, refTable, dataTable, isBias) {
  const L = LAY[key];
  for (let r = 0; r < 3; r++) {
    for (let c = 0; c < 6; c++) {
      const gi = grids.length;
      const left = L.left + L.step * c, top = L.tops[r];
      grids.push({ left: left, top: top, width: L.width, height: L.height, show: true,
                   borderColor: '#B3B3B3', borderWidth: 2.5, backgroundColor: '#fff' });
      const bottom = r === 2, first = c === 0;
      xAxes.push({
        gridIndex: gi, type: 'value', min: XMIN, max: XMAX, minInterval: 2.5, maxInterval: 2.5,
        axisLine: { show: false },
        axisTick: { show: bottom, length: 8, customValues: xTickValues, lineStyle: { color: '#B3B3B3', width: 2 } },
        axisLabel: Object.assign({ show: bottom, customValues: xTickValues, formatter: v => Number(v).toFixed(1) }, labelStyle),
        splitLine: { show: true, lineStyle: { color: '#DEDEDE', width: 1.7 } },
        minorTick: { show: false, splitNumber: 2 },
        minorSplitLine: { show: true, lineStyle: { color: '#E3E3E3', width: 1 } }
      });
      const yt = isBias ? biasTickValues[r] : mseTickValues;
      yAxes.push({
        gridIndex: gi, type: 'value', min: L.yRange[r][0], max: L.yRange[r][1],
        minInterval: L.yStep[r], maxInterval: L.yStep[r],
        axisLine: { show: false },
        axisTick: { show: first, length: 8, customValues: yt, lineStyle: { color: '#B3B3B3', width: 2 } },
        axisLabel: Object.assign({ show: first, customValues: yt, formatter: v => minus(v) }, labelStyle),
        splitLine: { show: true, lineStyle: { color: '#DEDEDE', width: 1.7 } },
        minorTick: { show: false, splitNumber: 2 },
        minorSplitLine: { show: true, lineStyle: { color: '#E3E3E3', width: 1 } }
      });
      const ref = refTable[r], col = dataTable[r][c], color = modelColors[c];
      series.push(fillSeries(gi, ref[0], ref[2], isBias ? 'rgba(0,0,0,0.2)' : 'rgba(0,0,0,0.9)', 1));
      ref.forEach(a => series.push(lineSeries(gi, a, '#000', L.lw, 2)));
      series.push(fillSeries(gi, col[0], col[2], rgba(color, 0.2), 3));
      col.forEach((a, k) => series.push(lineSeries(gi, a, color, L.lw, 4, k === 2 ? {
        markLine: { silent: true, symbol: ['none', 'none'], label: { show: false }, animation: false,
                    lineStyle: { type: [11, 7], color: '#000', width: 3.6 }, data: [{ xAxis: followUps[r] }] }
      } : null)));
    }
    // right-hand row strip
    const rx = L.left + L.step * 5 + L.width + 1;
    graphics.push({ type: 'rect', shape: { x: rx, y: L.tops[r] - 1.25, width: 52, height: L.height + 2.5 }, style: { fill: '#B3B3B3' } });
    graphics.push({ type: 'text', x: rx + 26, y: L.tops[r] + L.height / 2, rotation: -Math.PI / 2,
                    style: { text: rowLabels[r], fill: '#fff', stroke: '#fff', lineWidth: 0.6, fontSize: 25, fontFamily: FONT, align: 'center', verticalAlign: 'middle' } });
  }
  // column strips
  for (let c = 0; c < 6; c++) {
    const x = L.left + L.step * c - 1.25;
    graphics.push({ type: 'rect', shape: { x: x, y: L.stripTop, width: L.width + 2.5, height: L.tops[0] - L.stripTop }, style: { fill: '#B3B3B3' } });
    graphics.push({ type: 'text', x: x + (L.width + 2.5) / 2, y: (L.stripTop + L.tops[0]) / 2,
                    style: { text: models[c], fill: '#fff', stroke: '#fff', lineWidth: 0.6, fontSize: 25, fontFamily: FONT, align: 'center', verticalAlign: 'middle' } });
  }
}

buildBlock('mse', mseRef, mseData, false);
buildBlock('bias', biasRef, biasData, true);

const titleStyle = { fill: '#000', stroke: '#000', lineWidth: 0.6, fontSize: 31, fontFamily: FONT, align: 'center', verticalAlign: 'middle' };
graphics.push({ type: 'text', x: 14, y: 602, rotation: Math.PI / 2, style: Object.assign({ text: 'MSE' }, titleStyle) });
graphics.push({ type: 'text', x: 14, y: 1839, rotation: Math.PI / 2, style: Object.assign({ text: 'Bias' }, titleStyle) });
graphics.push({ type: 'text', x: 950, y: 2424, style: Object.assign({ text: 'Follow\u2212up time' }, titleStyle) });
graphics.push({ type: 'text', x: 1803, y: 2470,
  style: { text: 'Black reference line is for current practice model', fill: '#000', stroke: '#000', lineWidth: 0.5, fontSize: 26, fontFamily: FONT, align: 'right', verticalAlign: 'middle' } });

const chart = echarts.init(document.getElementById('c'), null, { renderer: 'canvas' });
chart.setOption({
  backgroundColor: '#fff',
  animation: false,
  grid: grids, xAxis: xAxes, yAxis: yAxes, series: series,
  graphic: { elements: graphics }
});
</script></body></html>
